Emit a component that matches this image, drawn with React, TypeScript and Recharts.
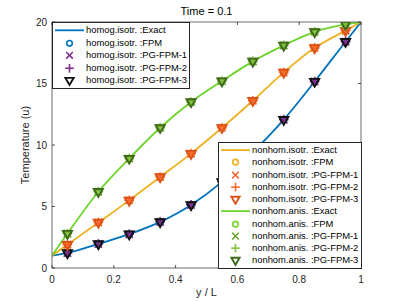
import React from 'react';
import { ComposedChart, Line, Scatter, XAxis, YAxis, Legend } from 'recharts';

// ---------- data ----------
const xExact = [0, 0.05, 0.15, 0.25, 0.35, 0.45, 0.55, 0.65, 0.75, 0.85, 0.95, 1];
const xNodes = [0.05, 0.15, 0.25, 0.35, 0.45, 0.55, 0.65, 0.75, 0.85, 0.95];

const homogExact = [1, 1.22, 1.96, 2.75, 3.75, 5.13, 7.0, 9.4, 12.06, 15.16, 18.4, 20];
const homogNum = [1.22, 1.96, 2.75, 3.75, 5.13, 7.0, 9.4, 12.06, 15.16, 18.4];

const nonhomIsoExact = [1, 1.9, 3.7, 5.5, 7.4, 9.3, 11.4, 13.6, 15.9, 17.9, 19.3, 20];
const nonhomIsoNum = [1.9, 3.7, 5.5, 7.4, 9.3, 11.4, 13.6, 15.9, 17.9, 19.3];

const nonhomAnisExact = [1, 2.8, 6.2, 8.9, 11.4, 13.5, 15.2, 16.8, 18.1, 19.2, 19.8, 20];
const nonhomAnisNum = [2.8, 6.2, 8.9, 11.4, 13.5, 15.2, 16.8, 18.1, 19.2, 19.8];

const xTicks = [0, 0.2, 0.4, 0.6, 0.8, 1];
const xTickLabels = ['0', '0.2', '0.4', '0.6', '0.8', '1'];
const yTicks = [0, 5, 10, 15, 20];
const yTickLabels = ['0', '5', '10', '15', '20'];

const caseNames = ['homog.isotr.', 'nonhom.isotr.', 'nonhom.anis.'];
const methodNames = ['Exact', 'FPM', 'PG-FPM-1', 'PG-FPM-2', 'PG-FPM-3'];
const methodGlyphs = ['line', 'o', 'x', '+', 'v'];

const caseColors = [
  ['#0072BD', '#0072BD', '#7E2F8E', '#7E2F8E', '#111111'],
  ['#EDB120', '#EDB120', '#F5622A', '#FF6A2C', '#D95319'],
  ['#6CD42A', '#77D42A', '#69A22E', '#84C23F', '#3E6A1A'],
];
const exactSets = [homogExact, nonhomIsoExact, nonhomAnisExact];
const numSets = [homogNum, nonhomIsoNum, nonhomAnisNum];

const titleText = 'Time = 0.1';
const xLabelText = 'y / L';
const yLabelText = 'Temperature (u)';

// ---------- styling ----------
const FONT = '"Liberation Sans", Arial, Helvetica, sans-serif';
const AXC = '#262626';
const BOX = '#6a6a6a';
const TICKLEN = 3;

const W = 399;
const H = 301;

function Glyph({ kind, cx, cy, color, scale = 1 }: any) {
  const sw = 1.6;
  if (kind === 'o') {
    return <circle cx={cx} cy={cy} r={3.1 * scale} fill="none" stroke={color} strokeWidth={sw} />;
  }
  if (kind === 'x') {
    const s = 3.7 * scale;
    return (
      <g stroke={color} strokeWidth={sw}>
        <line x1={cx - s} y1={cy - s} x2={cx + s} y2={cy + s} />
        <line x1={cx - s} y1={cy + s} x2={cx + s} y2={cy - s} />
      </g>
    );
  }
  if (kind === '+') {
    const s = 4.8 * scale;
    return (
      <g stroke={color} strokeWidth={sw}>
        <line x1={cx - s} y1={cy} x2={cx + s} y2={cy} />
        <line x1={cx} y1={cy - s} x2={cx} y2={cy + s} />
      </g>
    );
  }
  if (kind === 'v') {
    const w = 4.6 * scale;
    const t = 2.7 * scale;
    const b = 5.2 * scale;
    return (
      <polygon
        points={`${cx - w},${cy - t} ${cx + w},${cy - t} ${cx},${cy + b}`}
        fill="none"
        stroke={color}
        strokeWidth={1.9}
        strokeLinejoin="miter"
      />
    );
  }
  return null;
}

const makeShape = (kind: string, color: string) => (props: any) => {
  if (props.cx == null || props.cy == null) return <g />;
  return <Glyph kind={kind} cx={props.cx} cy={props.cy} color={color} />;
};

// ---------- ticks ----------
const BottomTick = (props: any) => {
  const { x, y, payload } = props;
  const i = xTicks.indexOf(payload.value);
  return (
    <g>
      <line x1={x} y1={y} x2={x} y2={y - TICKLEN} stroke={AXC} strokeWidth={0.8} />
      <text x={x} y={y + 15} textAnchor="middle" fontSize={10} fill={AXC} fontFamily={FONT}>
        {i >= 0 ? xTickLabels[i] : String(payload.value)}
      </text>
    </g>
  );
};
const TopTick = (props: any) => {
  const { x, y } = props;
  return <line x1={x} y1={y} x2={x} y2={y + TICKLEN} stroke={AXC} strokeWidth={0.8} />;
};
const LeftTick = (props: any) => {
  const { x, y, payload } = props;
  const i = yTicks.indexOf(payload.value);
  return (
    <g>
      <line x1={x} y1={y} x2={x + TICKLEN} y2={y} stroke={AXC} strokeWidth={0.8} />
      <text x={x - 5} y={y + 3.6} textAnchor="end" fontSize={10} fill={AXC} fontFamily={FONT}>
        {i >= 0 ? yTickLabels[i] : String(payload.value)}
      </text>
    </g>
  );
};
const RightTick = (props: any) => {
  const { x, y } = props;
  return <line x1={x} y1={y} x2={x - TICKLEN} y2={y} stroke={AXC} strokeWidth={0.8} />;
};

// ---------- labels ----------
const TitleLabel = (props: any) => {
  const vb = props.viewBox || {};
  const cx = (vb.x ?? 52) + (vb.width ?? 309) / 2;
  return (
    <text x={cx} y={15} textAnchor="middle" fontSize={11} fill="#000" fontFamily={FONT}>
      {titleText}
    </text>
  );
};
const XLabel = (props: any) => {
  const vb = props.viewBox || {};
  const cx = (vb.x ?? 52) + (vb.width ?? 309) / 2;
  return (
    <text x={cx} y={296} textAnchor="middle" fontSize={11} fill={AXC} fontFamily={FONT}>
      {xLabelText}
    </text>
  );
};
const YLabel = (props: any) => {
  const vb = props.viewBox || {};
  const cy = (vb.y ?? 22) + (vb.height ?? 246) / 2;
  return (
    <text
      transform={`translate(28.5,${cy}) rotate(-90)`}
      textAnchor="middle"
      fontSize={11}
      fill={AXC}
      fontFamily={FONT}
    >
      {yLabelText}
    </text>
  );
};

// ---------- legend ----------
type LegendItem = { label: string; kind: string; color: string };
const legendItems: LegendItem[][] = caseNames.map((c, ci) =>
  methodNames.map((m, mi) => ({ label: `${c} :${m}`, kind: methodGlyphs[mi], color: caseColors[ci][mi] }))
);

function LegendPanel({ items, left, top, width, rowH }: any) {
  return (
    <div
      style={{
        position: 'absolute',
        left,
        top,
        width,
        boxSizing: 'border-box',
        background: '#fff',
        border: `1px solid ${AXC}`,
        padding: '1px 0',
        fontFamily: FONT,
      }}
    >
      {items.map((it: LegendItem, i: number) => (
        <div key={i} style={{ height: rowH, display: 'flex', alignItems: 'center' }}>
          <svg width={33} height={rowH} style={{ flex: 'none', display: 'block' }}>
            {it.kind === 'line' ? (
              <line x1={2} y1={rowH / 2} x2={31} y2={rowH / 2} stroke={it.color} strokeWidth={1.8} />
            ) : (
              <Glyph kind={it.kind} cx={16.5} cy={rowH / 2} color={it.color} scale={0.9} />
            )}
          </svg>
          <span style={{ fontSize: 9.4, color: '#000', whiteSpace: 'nowrap', lineHeight: `${rowH}px` }}>{it.label}</span>
        </div>
      ))}
    </div>
  );
}

const LegendContent = () => (
  <div style={{ position: 'relative', width: 0, height: 0 }}>
    <LegendPanel items={legendItems[0]} left={52} top={22} width={138} rowH={12.6} />
    <LegendPanel items={[...legendItems[1], ...legendItems[2]]} left={218} top={142} width={144} rowH={12.25} />
  </div>
);

export default function App() {
  const series = caseNames.map((c, ci) => {
    const exactData = xExact.map((x, i) => ({ x, y: exactSets[ci][i] }));
    const numData = xNodes.map((x, i) => ({ x, y: numSets[ci][i] }));
    return { c, ci, exactData, numData };
  });

  return (
    <div style={{ position: 'fixed', left: 0, top: 0, width: W, height: H, background: '#fff' }}>
      <ComposedChart
        width={W}
        height={H}
        margin={{ top: 21, right: 37, bottom: 32, left: 51 }}
        style={{ fontFamily: FONT }}
      >
        <XAxis
          xAxisId={0}
          dataKey="x"
          type="number"
          domain={[0, 1]}
          ticks={xTicks}
          interval={0}
          height={1}
          tickSize={0}
          tickMargin={0}
          tick={<BottomTick />}
          axisLine={{ stroke: BOX, strokeWidth: 1 }}
          tickLine={false}
          allowDataOverflow
          label={<XLabel />}
        />
        <XAxis
          xAxisId="top"
          orientation="top"
          dataKey="x"
          type="number"
          domain={[0, 1]}
          ticks={xTicks}
          interval={0}
          height={1}
          tickSize={0}
          tickMargin={0}
          tick={<TopTick />}
          axisLine={{ stroke: BOX, strokeWidth: 1 }}
          tickLine={false}
          allowDataOverflow
          label={<TitleLabel />}
        />
        <YAxis
          yAxisId={0}
          type="number"
          domain={[0, 20]}
          ticks={yTicks}
          interval={0}
          width={1}
          tickSize={0}
          tickMargin={0}
          tick={<LeftTick />}
          axisLine={{ stroke: BOX, strokeWidth: 1 }}
          tickLine={false}
          allowDataOverflow
          label={<YLabel />}
        />
        <YAxis
          yAxisId="right"
          orientation="right"
          type="number"
          domain={[0, 20]}
          ticks={yTicks}
          interval={0}
          width={1}
          tickSize={0}
          tickMargin={0}
          tick={<RightTick />}
          axisLine={{ stroke: BOX, strokeWidth: 1 }}
          tickLine={false}
          allowDataOverflow
        />
        {series.map(({ c, ci, exactData, numData }) => [
          <Line
            key={`${c}-exact`}
            data={exactData}
            dataKey="y"
            type="monotone"
            stroke={caseColors[ci][0]}
            strokeWidth={1.8}
            dot={false}
            activeDot={false}
            isAnimationActive={false}
            legendType="none"
          />,
          ...[1, 2, 3, 4].map((mi) => (
            <Scatter
              key={`${c}-${mi}`}
              data={numData}
              dataKey="y"
              shape={makeShape(methodGlyphs[mi], caseColors[ci][mi])}
              isAnimationActive={false}
              legendType="none"
            />
          )),
        ])}
        <Legend
          content={<LegendContent />}
          wrapperStyle={{ position: 'absolute', left: 0, top: 0, width: 0, height: 0, overflow: 'visible' }}
        />
      </ComposedChart>
    </div>
  );
}
